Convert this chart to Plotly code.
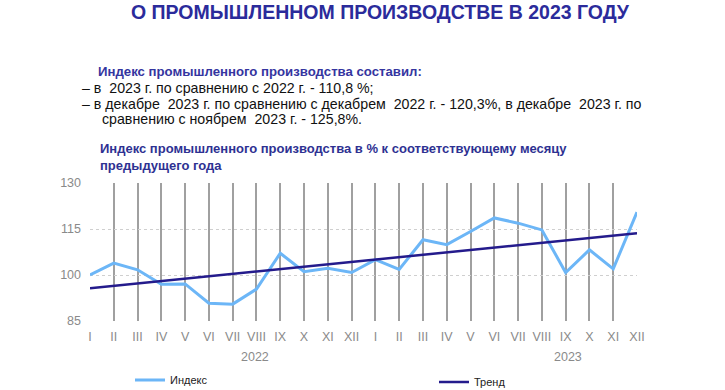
import plotly.graph_objects as go

months = ["I", "II", "III", "IV", "V", "VI", "VII", "VIII", "IX", "X", "XI", "XII"]
years = ["2022", "2023"]
categories = [f"{m} {y}" for y in years for m in months]
tick_labels = months + months
index_values = [100.0, 103.9, 101.7, 97.0, 97.1, 90.8, 90.5, 95.4, 107.1, 101.1, 102.2, 100.8,
                105.0, 101.8, 111.5, 109.9, 114.2, 118.6, 116.9, 114.7, 100.8, 108.2, 102.0, 120.5]
trend_x = [categories[0], categories[-1]]
trend_values = [95.7, 113.6]

L, R, T, B = 90, 637, 183, 321
W, H = 725, 390


def cx(x):
    return x / W


def cy(y):
    return 1 - y / H


fig = go.Figure()
fig.add_trace(go.Scatter(x=categories, y=index_values, mode="lines", name="Индекс",
                         line=dict(color="#6cb6f7", width=3), legend="legend"))
fig.add_trace(go.Scatter(x=trend_x, y=trend_values, mode="lines", name="Тренд",
                         line=dict(color="#241b8c", width=2.5), legend="legend2"))

font = "Liberation Sans, Arial, sans-serif"
ann = []
texts = [
    ("<b>О ПРОМЫШЛЕННОМ ПРОИЗВОДСТВЕ В 2023 ГОДУ</b>", 380, 12, 19.5, "#2b2b9b", "center"),
    ("<b>Индекс промышленного производства составил:</b>", 96, 71, 13.2, "#3535a0", "left"),
    ("– в  2023 г. по сравнению с 2022 г. - 110,8 %;", 80, 88, 14.2, "#111111", "left"),
    ("– в декабре  2023 г. по сравнению с декабрем  2022 г. - 120,3%, в декабре  2023 г. по",
     80, 104, 14.2, "#111111", "left"),
    ("сравнению с ноябрем  2023 г. - 125,8%.", 100, 119, 14.2, "#111111", "left"),
    ("<b>Индекс промышленного производства в % к соответствующему месяцу</b>", 98, 148, 13,
     "#2e3192", "left"),
    ("<b>предыдущего года</b>", 98, 165, 13, "#2e3192", "left"),
]
for t, x0, y0, s, c, a in texts:
    ann.append(dict(text=t, x=(x0 - L) / (R - L), y=(B - y0) / (B - T), xref="paper", yref="paper",
                    xanchor=a, yanchor="middle", showarrow=False,
                    font=dict(size=s, color=c, family=font)))
for yr, xp in zip(years, [255, 568]):
    ann.append(dict(text=yr, x=(xp - L) / (R - L), y=(B - 357) / (B - T), xref="paper", yref="paper",
                    xanchor="center", yanchor="middle", showarrow=False,
                    font=dict(size=12.5, color="#8a8a8a", family=font)))

leg_common = dict(orientation="h", xref="container", yref="container", xanchor="left",
                  yanchor="middle", font=dict(size=11, color="#222222", family=font),
                  bgcolor="rgba(0,0,0,0)")

fig.update_layout(
    width=W, height=H,
    margin=dict(l=L, r=W - R, t=T, b=H - B, pad=0, autoexpand=False),
    paper_bgcolor="white", plot_bgcolor="white",
    annotations=ann,
    showlegend=True,
    legend=dict(x=cx(130), y=cy(380), **leg_common),
    legend2=dict(x=cx(434), y=cy(382), **leg_common),
    xaxis=dict(type="category", categoryorder="array", categoryarray=categories,
               range=[0, len(categories) - 1], tickvals=categories, ticktext=tick_labels,
               showgrid=True, gridcolor="#a0a0a0", gridwidth=1.5, zeroline=False,
               showline=False, ticks="", ticklabelstandoff=6,
               tickfont=dict(size=12.5, color="#8a8a8a", family=font)),
    yaxis=dict(range=[85, 130], tickvals=[85, 100, 115, 130], showgrid=True,
               gridcolor="#cfcfcf", gridwidth=1, griddash="dot", zeroline=False, showline=False,
               ticks="", ticklabelstandoff=8,
               tickfont=dict(size=12.5, color="#8a8a8a", family=font)),
)
fig.write_html("out.html", config={"displayModeBar": False},
               post_script="document.body.style.margin='0';")
